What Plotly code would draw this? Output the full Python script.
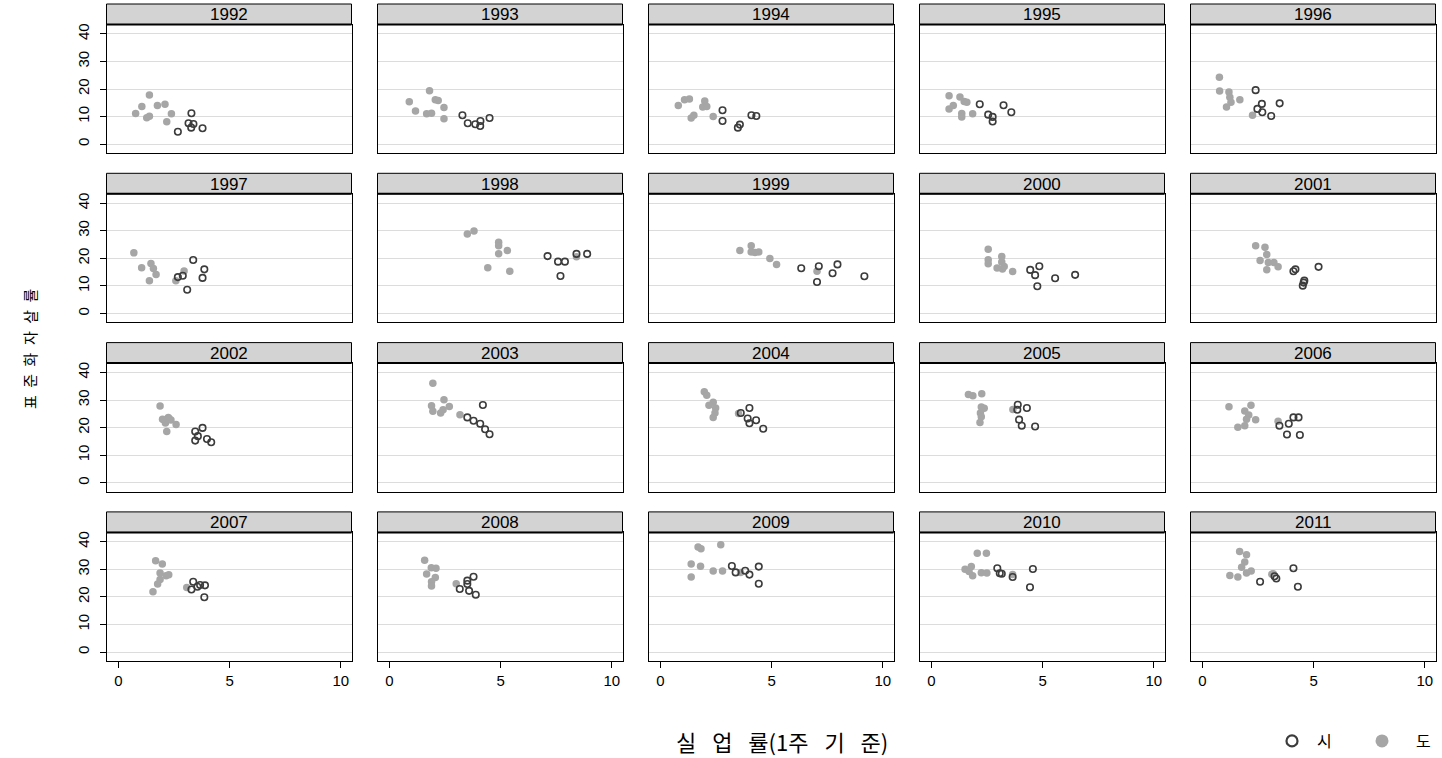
import plotly.graph_objects as go

# 연도별 패널: 실업률(1주기준) vs 표준화 자살률, 시(광역시) / 도
years = list(range(1992, 2012))

# 시: 실업률
si_unemp = {
    1992: [2.67, 3.28, 3.15, 3.37, 3.27, 3.78],
    1993: [3.28, 3.52, 3.86, 4.09, 4.08, 4.50],
    1994: [2.79, 2.79, 3.57, 3.48, 4.09, 4.31],
    1995: [2.17, 2.55, 2.75, 2.75, 3.24, 3.59],
    1996: [2.39, 2.67, 2.47, 2.69, 3.09, 3.47],
    1997: [2.67, 2.89, 3.36, 3.86, 3.78, 3.09],
    1998: [7.11, 7.58, 7.89, 7.69, 8.41, 8.89],
    1999: [6.33, 7.12, 7.04, 7.74, 7.96, 9.17],
    2000: [4.44, 4.85, 4.66, 4.76, 5.56, 6.46],
    2001: [4.09, 4.18, 4.58, 4.55, 4.51, 5.22],
    2002: [3.45, 3.57, 3.45, 3.78, 3.98, 4.17],
    2003: [3.50, 3.78, 4.08, 4.20, 4.30, 4.50],
    2004: [3.61, 4.00, 3.92, 4.30, 4.00, 4.62],
    2005: [3.88, 3.86, 4.29, 3.94, 4.06, 4.66],
    2006: [3.46, 3.88, 4.09, 4.32, 3.80, 4.38],
    2007: [3.36, 3.28, 3.55, 3.67, 3.89, 3.86],
    2008: [3.16, 3.50, 3.50, 3.78, 3.58, 3.88],
    2009: [3.21, 3.38, 3.81, 4.00, 4.42, 4.42],
    2010: [2.96, 3.07, 3.16, 3.65, 4.56, 4.43],
    2011: [2.59, 3.24, 3.32, 4.09, 4.29],
}
# 시: 표준화 자살률
si_suicide = {
    1992: [4.5, 11.2, 7.6, 7.3, 6.0, 5.8],
    1993: [10.5, 7.6, 7.2, 8.4, 6.6, 9.5],
    1994: [12.3, 8.4, 7.1, 6.0, 10.5, 10.2],
    1995: [14.5, 10.7, 9.9, 8.2, 14.1, 11.6],
    1996: [19.6, 14.6, 12.8, 11.6, 10.2, 14.8],
    1997: [13.2, 13.7, 19.4, 16.0, 12.9, 8.6],
    1998: [20.8, 18.8, 18.8, 13.6, 21.6, 21.6],
    1999: [16.4, 17.1, 11.4, 14.6, 17.8, 13.5],
    2000: [15.8, 17.1, 13.9, 9.9, 12.8, 14.0],
    2001: [15.3, 16.0, 11.9, 11.2, 10.1, 16.9],
    2002: [18.6, 16.9, 15.3, 19.9, 15.9, 14.7],
    2003: [23.7, 22.5, 21.4, 28.2, 19.4, 17.6],
    2004: [25.3, 27.1, 23.3, 22.7, 21.6, 19.6],
    2005: [28.3, 26.5, 27.1, 22.9, 20.7, 20.4],
    2006: [20.7, 21.4, 23.7, 23.7, 17.5, 17.3],
    2007: [25.5, 22.7, 23.7, 24.3, 24.2, 19.9],
    2008: [22.9, 25.9, 24.7, 27.3, 22.2, 20.8],
    2009: [31.2, 28.9, 29.5, 28.1, 31.0, 24.8],
    2010: [30.4, 28.6, 28.4, 27.2, 30.1, 23.5],
    2011: [25.5, 27.5, 26.7, 30.4, 23.7],
}
# 도: 실업률
do_unemp = {
    1992: [0.77, 1.05, 1.39, 1.27, 1.39, 1.75, 2.09, 2.38, 2.17],
    1993: [0.89, 1.17, 1.80, 2.06, 2.19, 2.45, 1.67, 1.89, 2.45],
    1994: [0.80, 1.08, 1.30, 1.99, 1.90, 2.08, 1.38, 1.50, 2.37],
    1995: [0.79, 1.28, 1.47, 1.59, 0.79, 0.98, 1.36, 1.36, 1.85],
    1996: [0.76, 0.77, 1.19, 1.23, 1.28, 1.08, 1.68, 2.25],
    1997: [0.69, 1.04, 1.46, 1.57, 1.69, 1.39, 2.58, 2.95],
    1998: [3.50, 3.80, 4.91, 4.91, 5.30, 4.91, 4.42, 5.41, 8.41],
    1999: [3.57, 4.08, 4.08, 4.25, 4.42, 4.92, 5.22, 7.04],
    2000: [2.55, 2.55, 2.55, 3.16, 3.16, 2.95, 3.19, 3.27, 3.65],
    2001: [2.39, 2.81, 2.89, 2.59, 2.96, 3.21, 2.89, 3.40],
    2002: [1.87, 2.05, 2.24, 2.36, 2.11, 2.17, 2.59, 1.98, 2.28],
    2003: [1.95, 2.45, 1.89, 1.95, 2.30, 2.41, 2.69, 3.17],
    2004: [1.97, 2.08, 2.37, 2.18, 2.48, 2.45, 2.37, 3.51],
    2005: [1.66, 1.86, 2.26, 2.24, 2.37, 2.20, 2.24, 2.18, 3.66],
    2006: [1.19, 2.18, 1.90, 2.08, 2.39, 1.98, 1.59, 1.90, 3.40],
    2007: [1.67, 1.97, 1.87, 1.55, 1.76, 1.87, 2.14, 2.26, 3.07],
    2008: [1.58, 1.88, 2.09, 1.67, 2.06, 1.89, 1.89, 3.00],
    2009: [1.69, 1.82, 2.71, 1.38, 1.80, 1.38, 2.37, 2.79, 3.60],
    2010: [2.06, 2.47, 1.51, 1.79, 1.69, 1.85, 2.24, 2.49, 3.65],
    2011: [1.67, 1.98, 1.90, 1.76, 1.23, 1.59, 1.98, 2.19, 3.12, 3.18],
}
# 도: 표준화 자살률
do_suicide = {
    1992: [11.1, 13.7, 17.8, 9.6, 10.1, 14.0, 14.5, 11.0, 8.1],
    1993: [15.4, 12.0, 19.4, 16.1, 15.8, 13.3, 11.0, 11.2, 9.2],
    1994: [14.0, 16.1, 16.4, 15.7, 13.5, 13.7, 9.5, 10.5, 10.0],
    1995: [17.6, 17.1, 15.5, 15.2, 12.8, 14.0, 11.1, 9.9, 11.0],
    1996: [24.3, 19.3, 18.9, 17.0, 15.2, 13.5, 16.1, 10.5],
    1997: [22.0, 16.6, 18.1, 16.3, 14.1, 11.9, 11.9, 15.4],
    1998: [28.8, 29.9, 25.8, 24.6, 22.8, 21.7, 16.6, 15.3, 20.6],
    1999: [22.8, 24.6, 22.3, 22.1, 22.3, 19.9, 17.8, 15.3],
    2000: [23.3, 19.5, 18.0, 20.7, 18.7, 16.5, 16.1, 17.0, 15.2],
    2001: [24.6, 24.0, 21.4, 19.2, 18.5, 18.5, 15.9, 16.9],
    2002: [27.8, 22.8, 23.7, 22.8, 21.7, 18.6, 21.1, 23.0, 23.2],
    2003: [36.1, 30.1, 27.9, 25.9, 25.3, 26.5, 27.7, 24.7],
    2004: [33.0, 31.7, 29.2, 28.1, 27.1, 25.3, 23.7, 25.1],
    2005: [32.0, 31.6, 32.3, 27.5, 27.0, 25.3, 23.9, 21.9, 26.6],
    2006: [27.6, 28.1, 26.0, 24.6, 22.9, 23.0, 20.1, 20.7, 22.3],
    2007: [33.1, 31.9, 28.7, 21.9, 24.7, 26.3, 27.7, 28.0, 23.4],
    2008: [33.3, 30.6, 30.4, 28.3, 27.0, 25.5, 24.0, 24.8],
    2009: [38.1, 37.5, 38.9, 31.9, 31.1, 27.2, 29.4, 29.4, 28.9],
    2010: [35.8, 35.8, 30.0, 31.0, 29.2, 27.7, 28.8, 28.7, 28.1],
    2011: [36.5, 35.3, 32.7, 30.8, 27.8, 27.2, 28.7, 29.4, 28.2, 28.4],
}

x_ticks = [0, 5, 10]
y_ticks = [0, 10, 20, 30, 40]
x_title = "실 \u2002업 \u2002률(1주 \u2002기 \u2002준)"
y_title = "표\u2002준\u2002화\u2002자\u2002살\u2002률"
legend_labels = ["시", "도"]

# ---- layout geometry (pixels) ----
W, H = 1442, 758
NCOL = 5
COL_LEFT0, COL_W, COL_STEP = 106.5, 245.0, 271.0
ROW_TOP0, STRIP_H, PLOT_H, ROW_STEP = 4.0, 20.5, 128.5, 169.3
X_RANGE = [-0.54, 10.48]
Y_RANGE = [-3.2, 43.4]

FILL_GREY = "#a6a6a6"
HOLLOW_COL = "#3c3c3c"
NUM_FONT = "Liberation Sans, Arial, sans-serif"
KR_FONT = "Noto Sans CJK KR, sans-serif"

fig = go.Figure()
shapes, annotations = [], []
layout_axes = {}

for k, yr in enumerate(years):
    r, c = divmod(k, NCOL)
    n = k + 1
    sx = "" if n == 1 else str(n)
    left = COL_LEFT0 + c * COL_STEP
    right = left + COL_W
    strip_top = ROW_TOP0 + r * ROW_STEP
    top = strip_top + STRIP_H
    bottom = top + PLOT_H

    last_row = r == 3
    first_col = c == 0

    layout_axes["xaxis" + sx] = dict(
        domain=[left / W, right / W], range=X_RANGE, anchor="y" + sx,
        showgrid=False, zeroline=False, showline=True, mirror=True,
        linecolor="black", linewidth=1,
        tickvals=x_ticks, ticks="outside" if last_row else "",
        ticklen=6, tickwidth=1, tickcolor="black",
        showticklabels=last_row,
        tickfont=dict(family=NUM_FONT, size=15, color="black"),
    )
    layout_axes["yaxis" + sx] = dict(
        domain=[1 - bottom / H, 1 - top / H], range=Y_RANGE, anchor="x" + sx,
        showgrid=True, gridcolor="#dcdcdc", gridwidth=1.4,
        zeroline=False, showline=True, mirror=True,
        linecolor="black", linewidth=1,
        tickvals=y_ticks, ticks="outside" if first_col else "",
        ticklen=6, tickwidth=1, tickcolor="black",
        showticklabels=first_col, tickangle=-90, ticklabelstandoff=5,
        tickfont=dict(family=NUM_FONT, size=15, color="black"),
    )

    # 도 (filled) first, 시 (hollow) on top
    fig.add_trace(go.Scatter(
        x=do_unemp[yr], y=do_suicide[yr], mode="markers",
        xaxis="x" + sx, yaxis="y" + sx, showlegend=False,
        marker=dict(symbol="circle", size=7.5, color=FILL_GREY, line=dict(width=0)),
        hoverinfo="skip",
    ))
    fig.add_trace(go.Scatter(
        x=si_unemp[yr], y=si_suicide[yr], mode="markers",
        xaxis="x" + sx, yaxis="y" + sx, showlegend=False,
        marker=dict(symbol="circle-open", size=6.5, color=HOLLOW_COL,
                    line=dict(width=1.6, color=HOLLOW_COL)),
        hoverinfo="skip",
    ))

    # year strip
    shapes.append(dict(
        type="rect", xref="paper", yref="paper",
        x0=left / W, x1=right / W, y0=1 - top / H, y1=1 - strip_top / H,
        fillcolor="#d3d3d3", line=dict(color="black", width=1), layer="above",
    ))
    shapes.append(dict(
        type="line", xref="paper", yref="paper",
        x0=left / W, x1=right / W, y0=1 - top / H, y1=1 - top / H,
        line=dict(color="black", width=2), layer="above",
    ))
    annotations.append(dict(
        text=str(yr), xref="paper", yref="paper",
        x=(left + right) / 2 / W, y=1 - (strip_top + STRIP_H / 2 + 0.5) / H,
        xanchor="center", yanchor="middle", showarrow=False,
        font=dict(family=NUM_FONT, size=17, color="black"),
    ))

# legend keys
fig.add_trace(go.Scatter(
    x=[None], y=[None], mode="markers", name=legend_labels[0], legend="legend",
    marker=dict(symbol="circle-open", size=11, color=HOLLOW_COL,
                line=dict(width=2.2, color=HOLLOW_COL)),
))
fig.add_trace(go.Scatter(
    x=[None], y=[None], mode="markers", name=legend_labels[1], legend="legend2",
    marker=dict(symbol="circle", size=13, color=FILL_GREY),
))

annotations.append(dict(
    text=x_title, xref="paper", yref="paper", x=782 / W, y=1 - 741 / H,
    xanchor="center", yanchor="middle", showarrow=False,
    font=dict(family=KR_FONT, size=22, color="black"),
))
annotations.append(dict(
    text=y_title, xref="paper", yref="paper", x=29 / W, y=1 - 349 / H,
    xanchor="center", yanchor="middle", showarrow=False, textangle=-90,
    font=dict(family=KR_FONT, size=15, color="black"),
))

legend_common = dict(
    orientation="h", yanchor="middle", xanchor="left",
    bgcolor="rgba(0,0,0,0)", borderwidth=0,
    font=dict(family=KR_FONT, size=16, color="black"),
)

fig.update_layout(
    width=W, height=H, autosize=False,
    margin=dict(l=0, r=0, t=0, b=0, pad=0),
    paper_bgcolor="white", plot_bgcolor="white",
    shapes=shapes, annotations=annotations,
    legend=dict(x=1267 / W, y=1 - 741 / H, itemwidth=40, **legend_common),
    legend2=dict(x=1348 / W, y=1 - 741 / H, itemwidth=58, **legend_common),
    **layout_axes,
)

fig.write_html("out.html", config={"displayModeBar": False})
